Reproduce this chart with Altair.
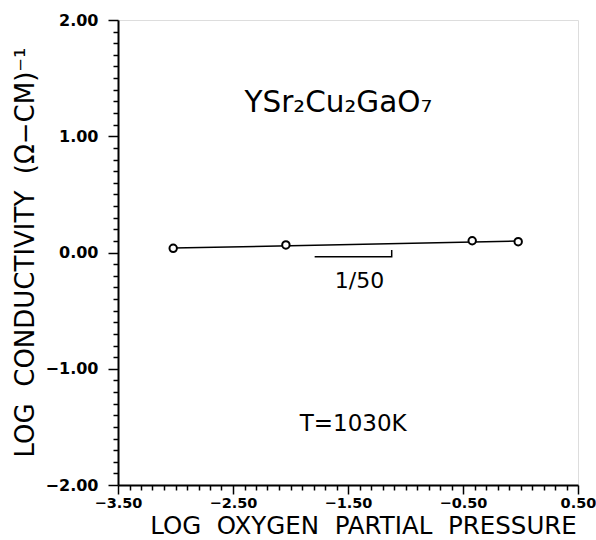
import altair as alt
import pandas as pd
import numpy as np

# measured points
log_po2 = [-3.02, -2.04, -0.42, -0.02]
log_sigma = [0.036, 0.065, 0.101, 0.093]

# fitted line (slope ~1/50)
fit_x = [-3.02, -0.02]
fit_y = [0.038, 0.098]

# slope indicator
ind_x = [-1.79, -1.12, -1.12]
ind_y = [-0.036, -0.036, 0.021]

x_major = [-3.5, -2.5, -1.5, -0.5, 0.5]
y_major = [-2.0, -1.0, 0.0, 1.0, 2.0]
x_ticks = [round(float(v), 1) for v in np.arange(-3.5, 0.51, 0.1)]
y_ticks = [round(float(v), 1) for v in np.arange(-2.0, 2.01, 0.1)]

ann_text = ["YSr₂Cu₂GaO₇", "T=1030K"]
ann_x = [-2.40, -1.92]
ann_y = [1.21, -1.535]
ann_size = [29.5, 23]

slope_label = ["1/50"]
slope_x = [-1.40]
slope_y = [-0.245]

FONT = "DejaVu Sans"
SP = "\u00a0"

xs = alt.Scale(domain=[-3.5, 0.5], nice=False, zero=False)
ys = alt.Scale(domain=[-2.0, 2.0], nice=False, zero=False)

xmaj_test = "abs(round(datum.value*10)) % 10 == 5"
ymaj_test = "abs(round(datum.value*10)) % 10 == 0"

x_axis = alt.Axis(
    values=x_ticks, tickCount=100,
    title=f"LOG{SP}{SP}OXYGEN{SP}{SP}PARTIAL{SP}{SP}PRESSURE",
    labelExpr=f"{xmaj_test} ? format(datum.value, '.2f') : ''",
    tickSize={"condition": {"test": xmaj_test, "value": 9}, "value": 5},
    labelPadding=2,
    labelFont=FONT, labelFontWeight="bold", labelFontSize=14.5, labelColor="black",
    labelOverlap=False, labelFlush=False, grid=False,
    domainColor="black", domainWidth=2, tickColor="black", tickWidth=1.5,
    titleFont=FONT, titleFontSize=24.5, titleFontWeight="normal", titleColor="black",
    titleX=245, titleY=41, titleAnchor="middle", titleAlign="center", titleBaseline="middle",
)
y_axis = alt.Axis(
    values=y_ticks, tickCount=100,
    title=f"LOG{SP}{SP}CONDUCTIVITY{SP}{SP}(Ω−CM)⁻¹",
    labelExpr=f"{ymaj_test} ? format(datum.value, '.2f') : ''",
    tickSize={"condition": {"test": ymaj_test, "value": 10}, "value": 5},
    labelPadding=10,
    labelFont=FONT, labelFontWeight="bold", labelFontSize=16, labelColor="black",
    labelOverlap=False, labelFlush=False, grid=False,
    domainColor="black", domainWidth=2, tickColor="black", tickWidth=1.5,
    titleFont=FONT, titleFontSize=26, titleFontWeight="normal", titleColor="black",
    titleX=-93, titleY=232, titleAngle=-90, titleAlign="center", titleBaseline="middle",
)

pts = pd.DataFrame({"x": log_po2, "y": log_sigma})
fit = pd.DataFrame({"x": fit_x, "y": fit_y})
ind = pd.DataFrame({"x": ind_x, "y": ind_y, "o": [0, 1, 2]})
ann = pd.DataFrame({"t": ann_text, "x": ann_x, "y": ann_y, "s": ann_size})
sl = pd.DataFrame({"t": slope_label, "x": slope_x, "y": slope_y})

base_line = alt.Chart(fit).mark_line(color="black", strokeWidth=1.5).encode(
    x=alt.X("x:Q", scale=xs, axis=x_axis),
    y=alt.Y("y:Q", scale=ys, axis=y_axis),
)
points = alt.Chart(pts).mark_point(shape="circle", filled=True, fill="white",
                                   stroke="black", strokeWidth=2, size=55, opacity=1).encode(
    x="x:Q", y="y:Q")
indicator = alt.Chart(ind).mark_line(color="black", strokeWidth=1.5).encode(
    x="x:Q", y="y:Q", order="o:O")
annot = alt.Chart(ann).mark_text(font=FONT, align="left", baseline="alphabetic",
                                 color="black").encode(
    x="x:Q", y="y:Q", text="t:N", size=alt.Size("s:Q", scale=None, legend=None))
slope_txt = alt.Chart(sl).mark_text(font=FONT, fontSize=22, align="center",
                                    baseline="middle", color="black").encode(
    x="x:Q", y="y:Q", text="t:N")

chart = alt.layer(base_line, points, indicator, annot, slope_txt).properties(
    width=460, height=465,
    autosize=alt.AutoSizeParams(type="none"),
    padding={"left": 118, "top": 20, "right": 18, "bottom": 55},
).configure_view(stroke="black", strokeWidth=2).configure(background="white")

chart.save("out.html", embed_options={"renderer": "svg", "actions": False})
